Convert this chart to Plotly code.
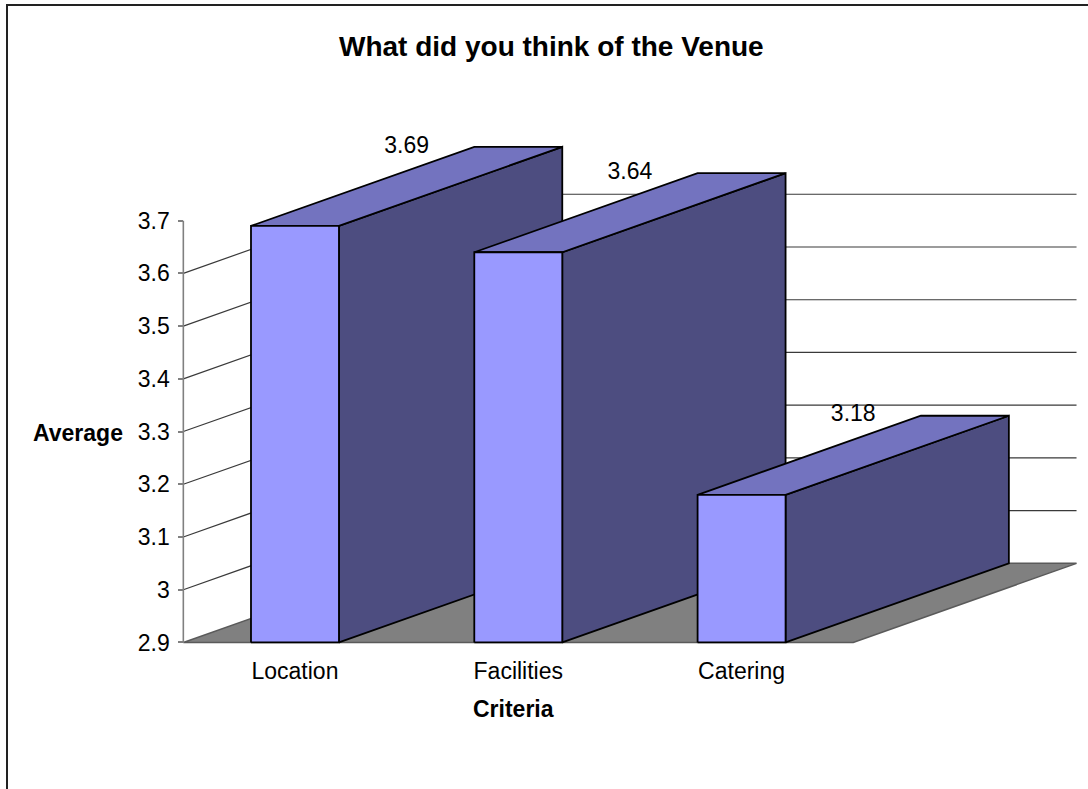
import plotly.graph_objects as go

# Survey results
categories = ["Location", "Facilities", "Catering"]
averages = [3.69, 3.64, 3.18]
y_ticks = [2.9, 3.0, 3.1, 3.2, 3.3, 3.4, 3.5, 3.6, 3.7]
y_tick_labels = ["2.9", "3", "3.1", "3.2", "3.3", "3.4", "3.5", "3.6", "3.7"]

# 3-D look: depth offset of the back plane, in axis units
DX, DY = 1.0, 0.15
HALF_W = 0.197
BASE = 2.9
FONT = "Arial, Liberation Sans, sans-serif"

FRONT = "#9999FF"
TOP = "#7373BF"
SIDE = "#4D4D80"
FLOOR = "#808080"

W, H = 1088, 789
ML, MR, MT, MB = 161, 7, 131, 136
XR = [-0.6, 3.52]
YR = [2.88, 3.87]


def poly(xs, ys, fill, line="black", width=1.8):
    return go.Scatter(x=xs + xs[:1], y=ys + ys[:1], mode="lines", fill="toself",
                      fillcolor=fill, line=dict(color=line, width=width),
                      hoverinfo="skip", showlegend=False)


fig = go.Figure()

n = len(categories)
# floor
fig.add_trace(poly([-0.5, n - 0.5, n - 0.5 + DX, -0.5 + DX],
                   [BASE, BASE, BASE + DY, BASE + DY], FLOOR, line="#5a5a5a", width=1.5))

# side wall + back wall gridlines
for v in y_ticks[1:-1]:
    fig.add_trace(go.Scatter(x=[-0.5, -0.5 + DX, n - 0.5 + DX], y=[v, v + DY, v + DY],
                             mode="lines", line=dict(color="#3a3a3a", width=1.2),
                             hoverinfo="skip", showlegend=False))

# value axis line
fig.add_trace(go.Scatter(x=[-0.5, -0.5], y=[y_ticks[0], y_ticks[-1]], mode="lines",
                         line=dict(color="#808080", width=1.6),
                         hoverinfo="skip", showlegend=False))

# bars, drawn left to right so each hides the previous one's side
for i, v in enumerate(averages):
    x0, x1 = i - HALF_W, i + HALF_W
    fig.add_trace(poly([x1, x1 + DX, x1 + DX, x1], [BASE, BASE + DY, v + DY, v], SIDE))
    fig.add_trace(poly([x0, x1, x1 + DX, x0 + DX], [v, v, v + DY, v + DY], TOP))
    fig.add_trace(poly([x0, x1, x1, x0], [BASE, BASE, v, v], FRONT))

# value labels above each bar
fig.add_trace(go.Scatter(x=[i + DX / 2 for i in range(n)], y=[v + DY for v in averages],
                         mode="text", text=[f"{v:.2f}" for v in averages],
                         textposition="middle center",
                         textfont=dict(family=FONT, size=23, color="black"),
                         hoverinfo="skip", showlegend=False, cliponaxis=False))

pw = W - ML - MR
ph = H - MT - MB


def px(x):
    return (x - ML) / pw


def py(y):
    return (H - MB - y) / ph


fig.update_layout(
    width=W, height=H,
    margin=dict(l=ML, r=MR, t=MT, b=MB),
    paper_bgcolor="white", plot_bgcolor="rgba(0,0,0,0)",
    font=dict(family=FONT, color="black"),
    xaxis=dict(range=XR, showgrid=False, zeroline=False, showline=False,
               tickmode="array", tickvals=list(range(n)), ticktext=categories,
               ticks="", tickfont=dict(size=23), ticklabelstandoff=2, fixedrange=True),
    yaxis=dict(range=YR, showgrid=False, zeroline=False, showline=False,
               anchor="free", position=(-0.5 - XR[0]) / (XR[1] - XR[0]),
               tickmode="array", tickvals=y_ticks, ticktext=y_tick_labels,
               ticks="outside", ticklen=5, tickcolor="#808080", tickwidth=1.5,
               tickfont=dict(size=23), ticklabelstandoff=4, fixedrange=True),
    annotations=[
        dict(text="<b>What did you think of the Venue</b>", xref="paper", yref="paper",
             x=px(551.5), y=py(47), xanchor="center", yanchor="middle",
             showarrow=False, font=dict(size=28)),
        dict(text="<b>Average</b>", xref="paper", yref="paper",
             x=px(78), y=py(433), xanchor="center", yanchor="middle",
             showarrow=False, font=dict(size=23)),
        dict(text="<b>Criteria</b>", xref="paper", yref="paper",
             x=px(513), y=py(709), xanchor="center", yanchor="middle",
             showarrow=False, font=dict(size=23)),
    ],
    shapes=[
        dict(type="line", xref="paper", yref="paper", x0=px(7), y0=py(5), x1=px(7), y1=py(H),
             line=dict(color="#222222", width=2)),
        dict(type="line", xref="paper", yref="paper", x0=px(6), y0=py(5), x1=px(W), y1=py(5),
             line=dict(color="#222222", width=2)),
    ],
)

fig.write_html("out.html")
